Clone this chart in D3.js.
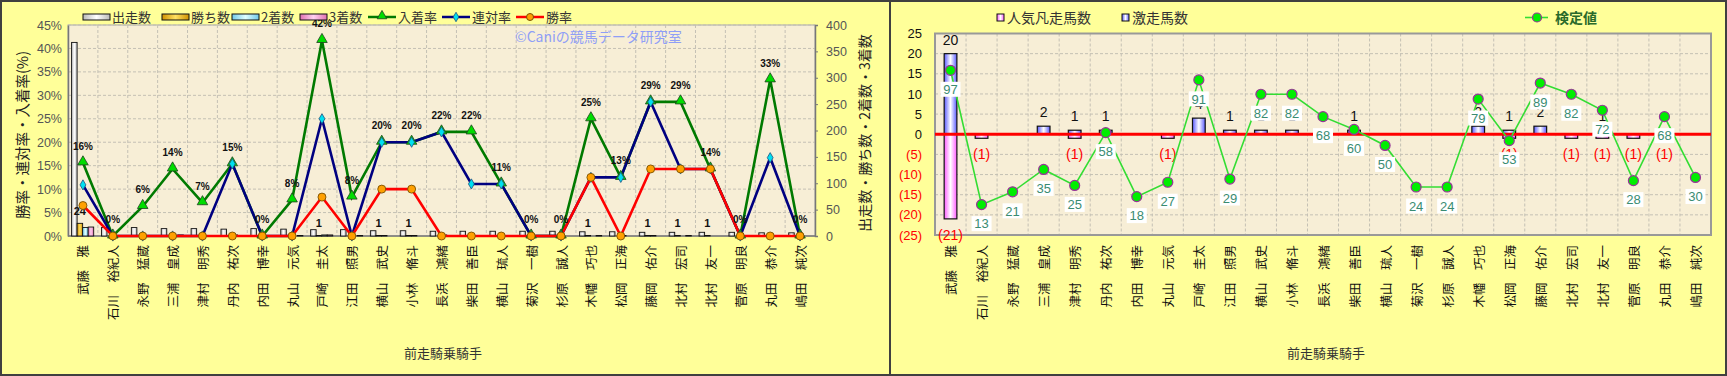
<!DOCTYPE html>
<html>
<head>
<meta charset="utf-8">
<script src="https://cdn.jsdelivr.net/npm/d3@7"></script>
<style>
  body { margin: 0; background: #ffff99; }
  svg text { font-family: "Noto Sans CJK JP", "Noto Sans", sans-serif; }
</style>
</head>
<body>
<svg id="chart" width="1727" height="376"></svg>
<script>
// ---- data ----
const jockeys = ["武藤　雅","石川　裕紀人","永野　猛蔵","三浦　皇成","津村　明秀","丹内　祐次","内田　博幸","丸山　元気","戸崎　圭太","江田　照男","横山　武史","小林　脩斗","長浜　鴻緒","柴田　善臣","横山　琉人","菊沢　一樹","杉原　誠人","木幡　巧也","松岡　正海","藤岡　佑介","北村　宏司","北村　友一","菅原　明良","丸田　恭介","嶋田　純次"];

// counts (right axis of left chart)
const runs    = [367,16,16,14,14,13,14,13,12,12,10,10,9,9,9,9,9,8,8,7,7,7,7,6,6];
const wins    = [24,0,0,0,0,0,0,0,1,0,1,1,0,0,0,0,0,1,0,1,1,1,0,0,0];
const seconds = [16,0,0,0,0,2,0,0,2,0,1,1,2,1,1,0,0,0,1,1,0,0,0,1,0];
const thirds  = [17,0,1,2,1,0,0,1,2,1,0,0,0,1,0,0,0,1,0,0,1,0,0,1,0];

// rates in % (left axis)
const placeRate    = [15.6,0,6.3,14.3,7.1,15.4,0,7.7,41.7,8.3,20,20,22.2,22.2,11.1,0,0,25,12.5,28.6,28.6,14.3,0,33.3,0];
const quinellaRate = [10.9,0,0,0,0,15.4,0,0,25,0,20,20,22.2,11.1,11.1,0,0,12.5,12.5,28.6,14.3,14.3,0,16.7,0];
const winRate      = [6.5,0,0,0,0,0,0,0,8.3,0,10,10,0,0,0,0,0,12.5,0,14.3,14.3,14.3,0,0,0];

// right chart
const surgeCount = [20,0,0,2,1,1,0,0,4,1,1,1,0,1,0,0,0,2,1,2,0,1,0,0,0];   // 激走馬数
const flopCount  = [21,1,0,0,1,0,0,1,0,0,0,0,0,0,0,0,0,0,1,0,1,1,1,1,0];   // 人気凡走馬数
const testValue  = [97,13,21,35,25,58,18,27,91,29,82,82,68,60,50,24,24,79,53,89,82,72,28,68,30]; // 検定値

const rateTicks  = [0,5,10,15,20,25,30,35,40,45];
const countTicks = [0,50,100,150,200,250,300,350,400];
const diffTicks  = [-25,-20,-15,-10,-5,0,5,10,15,20,25];

const svg = d3.select('#chart');
const defs = svg.append('defs');
const latin = '"Liberation Sans", Arial, sans-serif';

// horizontal gradients for bars
function hGrad(id, edge, mid) {
  const g = defs.append('linearGradient').attr('id', id)
    .attr('x1', '0%').attr('x2', '100%').attr('y1', '0%').attr('y2', '0%');
  g.append('stop').attr('offset', '0%').attr('stop-color', edge);
  g.append('stop').attr('offset', '50%').attr('stop-color', mid);
  g.append('stop').attr('offset', '100%').attr('stop-color', edge);
}
hGrad('gRuns', '#b8b8b8', '#ffffff');
hGrad('gWins', '#d09000', '#ffe060');
hGrad('gSec',  '#70c8e8', '#e0ffff');
hGrad('gThird','#e070b0', '#ffd0f0');
hGrad('gSurge','#5a5aff', '#ffffff');
hGrad('gFlop', '#ff5aff', '#ffffff');

// panels
svg.append('rect').attr('x', 1).attr('y', 1).attr('width', 1725).attr('height', 374)
  .attr('fill', '#ffff99').attr('stroke', '#404040').attr('stroke-width', 2);
svg.append('line').attr('x1', 890).attr('x2', 890).attr('y1', 0).attr('y2', 376)
  .attr('stroke', '#404040').attr('stroke-width', 2);

const plotBg = '#f7eed6';
const gridCol = '#c4c0b4';

// ============ LEFT CHART ============
const L = { left: 68, right: 815, top: 25, bottom: 236 };
const x1 = d3.scaleBand().domain(jockeys).range([L.left, L.right]);
const yRate = d3.scaleLinear().domain([0, 45]).range([L.bottom, L.top]);
const yCount = d3.scaleLinear().domain([0, 400]).range([L.bottom, L.top]);

const left = svg.append('g');
left.append('rect').attr('x', L.left).attr('y', L.top)
  .attr('width', L.right - L.left).attr('height', L.bottom - L.top)
  .attr('fill', plotBg).attr('stroke', '#aaa');

// grid
left.selectAll('line.hg').data(rateTicks.slice(1)).join('line')
  .attr('x1', L.left).attr('x2', L.right)
  .attr('y1', d => yRate(d)).attr('y2', d => yRate(d))
  .attr('stroke', gridCol).attr('stroke-dasharray', '3,2');
left.selectAll('line.vg').data(jockeys.slice(1)).join('line')
  .attr('x1', d => x1(d)).attr('x2', d => x1(d))
  .attr('y1', L.top).attr('y2', L.bottom)
  .attr('stroke', gridCol).attr('stroke-dasharray', '3,2');

// axes
const axL = left.append('g').attr('transform', `translate(${L.left},0)`)
  .call(d3.axisLeft(yRate).tickValues(rateTicks).tickFormat(d => d + '%').tickSize(0).tickPadding(6));
const axR = left.append('g').attr('transform', `translate(${L.right},0)`)
  .call(d3.axisRight(yCount).tickValues(countTicks).tickSize(3).tickPadding(8));
[axL, axR].forEach(a => {
  a.select('.domain').attr('stroke', '#777').attr('stroke-width', 1.5);
  a.selectAll('.tick line').attr('stroke', '#777');
  a.selectAll('.tick text').attr('fill', '#555').style('font-size', '12.5px').style('font-family', latin);
});
left.append('line').attr('x1', L.left).attr('x2', L.right).attr('y1', L.bottom).attr('y2', L.bottom)
  .attr('stroke', '#777').attr('stroke-width', 1.5);

// watermark
left.append('text').attr('x', 515).attr('y', 42).text('©Caniの競馬データ研究室')
  .attr('fill', '#8f9ef6').style('font-size', '14px');

// grouped bars
const barKeys = ['runs', 'wins', 'seconds', 'thirds'];
const barFill = { runs: 'url(#gRuns)', wins: 'url(#gWins)', seconds: 'url(#gSec)', thirds: 'url(#gThird)' };
const sub = d3.scaleBand().domain(barKeys).range([0, x1.bandwidth() * 0.74]);
const barRows = jockeys.map((j, i) => ({ j, runs: runs[i], wins: wins[i], seconds: seconds[i], thirds: thirds[i] }));
const groups = left.selectAll('g.grp').data(barRows).join('g')
  .attr('transform', d => `translate(${x1(d.j) + x1.bandwidth() * 0.12},0)`);
groups.selectAll('rect').data(d => barKeys.map(k => ({ k, v: d[k] }))).join('rect')
  .attr('x', d => sub(d.k)).attr('width', sub.bandwidth())
  .attr('y', d => yCount(d.v)).attr('height', d => L.bottom - yCount(d.v))
  .attr('fill', d => barFill[d.k]).attr('stroke', '#111').attr('stroke-width', 0.9);
// win-count labels
groups.filter(d => d.wins > 0).append('text')
  .attr('x', sub('wins') + sub.bandwidth() / 2)
  .attr('y', d => yCount(d.wins) - 8)
  .attr('text-anchor', 'middle').text(d => d.wins)
  .attr('fill', '#111').style('font-size', '11px').style('font-weight', 'bold')
  .style('font-family', latin);

// lines
const cx1 = j => x1(j) + x1.bandwidth() / 2;
function rateLine(vals, color) {
  left.append('path').datum(vals)
    .attr('d', d3.line().x((d, i) => cx1(jockeys[i])).y(d => yRate(d)))
    .attr('fill', 'none').attr('stroke', color).attr('stroke-width', 2.6);
}
rateLine(placeRate, '#007a00');
rateLine(quinellaRate, '#000080');
rateLine(winRate, '#ff0000');

left.selectAll('path.tri').data(placeRate).join('path')
  .attr('transform', (d, i) => `translate(${cx1(jockeys[i])},${yRate(d) - 1})`)
  .attr('d', d3.symbol(d3.symbolTriangle, 48))
  .attr('fill', '#00dd00').attr('stroke', '#204020').attr('stroke-width', 0.8);
left.selectAll('path.dia').data(quinellaRate).join('path')
  .attr('transform', (d, i) => `translate(${cx1(jockeys[i])},${yRate(d)})`)
  .attr('d', d3.symbol(d3.symbolDiamond, 30))
  .attr('fill', '#00e0f0').attr('stroke', '#205080').attr('stroke-width', 0.8);
left.selectAll('circle.win').data(winRate).join('circle')
  .attr('cx', (d, i) => cx1(jockeys[i])).attr('cy', d => yRate(d)).attr('r', 4)
  .attr('fill', '#ffa000').attr('stroke', '#7a5000').attr('stroke-width', 0.9);

// place-rate labels
left.selectAll('text.pl').data(placeRate).join('text')
  .attr('x', (d, i) => cx1(jockeys[i])).attr('y', d => yRate(d) - 13)
  .attr('text-anchor', 'middle').text(d => Math.round(d) + '%')
  .attr('fill', '#111').style('font-size', '10px').style('font-weight', 'bold')
  .style('font-family', latin);

// axis titles
left.append('text').attr('transform', 'translate(21,135) rotate(-90)')
  .attr('text-anchor', 'middle').attr('dominant-baseline', 'central')
  .text('勝率・連対率・入着率(%)').attr('fill', '#222').style('font-size', '14.5px');
left.append('text').attr('transform', 'translate(864,133) rotate(-90)')
  .attr('text-anchor', 'middle').attr('dominant-baseline', 'central')
  .text('出走数・勝ち数・2着数・3着数').attr('fill', '#222').style('font-size', '14px');

// x labels
function xLabels(g, scale) {
  g.selectAll('text.xl').data(jockeys).join('text')
    .attr('transform', d => `translate(${scale(d) + scale.bandwidth() / 2},245) rotate(-90)`)
    .attr('text-anchor', 'end').attr('dominant-baseline', 'central')
    .text(d => d).attr('fill', '#111').style('font-size', '12.5px');
}
xLabels(left, x1);
left.append('text').attr('x', 443).attr('y', 358).attr('text-anchor', 'middle')
  .text('前走騎乗騎手').attr('fill', '#333').style('font-size', '13px');

// legend (left)
const legL = left.append('g');
const barLeg = [
  { name: '出走数', fill: 'url(#gRuns)', x: 83 },
  { name: '勝ち数', fill: 'url(#gWins)', x: 162 },
  { name: '2着数', fill: 'url(#gSec)', x: 232 },
  { name: '3着数', fill: 'url(#gThird)', x: 300 }
];
barLeg.forEach(b => {
  legL.append('rect').attr('x', b.x).attr('y', 14).attr('width', 27).attr('height', 6)
    .attr('fill', b.fill).attr('stroke', '#111').attr('stroke-width', 1);
  legL.append('text').attr('x', b.x + 29).attr('y', 22).text(b.name)
    .attr('fill', '#333').style('font-size', '13px');
});
const lineLeg = [
  { name: '入着率', color: '#007a00', x: 368, sym: 'tri' },
  { name: '連対率', color: '#000080', x: 442, sym: 'dia' },
  { name: '勝率',   color: '#ff0000', x: 516, sym: 'cir' }
];
lineLeg.forEach(l => {
  legL.append('line').attr('x1', l.x).attr('x2', l.x + 28).attr('y1', 17).attr('y2', 17)
    .attr('stroke', l.color).attr('stroke-width', 2.5);
  const mx = l.x + 14;
  if (l.sym === 'tri') legL.append('path').attr('transform', `translate(${mx},16)`)
    .attr('d', d3.symbol(d3.symbolTriangle, 40)).attr('fill', '#00dd00').attr('stroke', '#204020').attr('stroke-width', 0.8);
  if (l.sym === 'dia') legL.append('path').attr('transform', `translate(${mx},17)`)
    .attr('d', d3.symbol(d3.symbolDiamond, 26)).attr('fill', '#00e0f0').attr('stroke', '#205080').attr('stroke-width', 0.8);
  if (l.sym === 'cir') legL.append('circle').attr('cx', mx).attr('cy', 17).attr('r', 3.5)
    .attr('fill', '#ffa000').attr('stroke', '#7a5000');
  legL.append('text').attr('x', l.x + 30).attr('y', 22).text(l.name)
    .attr('fill', '#333').style('font-size', '13px');
});

// ============ RIGHT CHART ============
const R = { left: 935, right: 1711, top: 33.5, bottom: 235 };
const x2 = d3.scaleBand().domain(jockeys).range([R.left, R.right]);
const yDiff = d3.scaleLinear().domain([-25, 25]).range([R.bottom, R.top]);
const yTest = d3.scaleLinear().domain([-6, 120]).range([R.bottom, R.top]);  // hidden secondary axis
const cx2 = j => x2(j) + x2.bandwidth() / 2;

const right = svg.append('g');
right.append('rect').attr('x', R.left).attr('y', R.top)
  .attr('width', R.right - R.left).attr('height', R.bottom - R.top)
  .attr('fill', plotBg);
right.selectAll('line.hg').data(diffTicks.slice(1, -1)).join('line')
  .attr('x1', R.left).attr('x2', R.right)
  .attr('y1', d => yDiff(d)).attr('y2', d => yDiff(d))
  .attr('stroke', gridCol).attr('stroke-dasharray', '3,2');
right.selectAll('line.vg').data(jockeys.slice(1)).join('line')
  .attr('x1', d => x2(d)).attr('x2', d => x2(d))
  .attr('y1', R.top).attr('y2', R.bottom)
  .attr('stroke', gridCol).attr('stroke-dasharray', '3,2');
right.append('rect').attr('x', R.left).attr('y', R.top)
  .attr('width', R.right - R.left).attr('height', R.bottom - R.top)
  .attr('fill', 'none').attr('stroke', '#999').attr('stroke-width', 2);

// y tick labels
right.selectAll('text.yt').data(diffTicks).join('text')
  .attr('x', 922).attr('y', d => yDiff(d)).attr('dy', '0.35em')
  .attr('text-anchor', 'end')
  .text(d => d < 0 ? `(${-d})` : d)
  .attr('fill', d => d < 0 ? '#ff0000' : '#111')
  .style('font-size', '13px').style('font-family', latin);

// bars (blue up, pink down, same slot)
const bw = x2.bandwidth() * 0.41;
right.selectAll('rect.flop').data(flopCount).join('rect')
  .attr('x', (d, i) => cx2(jockeys[i]) - bw / 2).attr('width', bw)
  .attr('y', yDiff(0)).attr('height', d => yDiff(-d) - yDiff(0))
  .attr('fill', 'url(#gFlop)').attr('stroke', d => d > 0 ? '#111' : 'none').attr('stroke-width', 1.2);
right.selectAll('rect.surge').data(surgeCount).join('rect')
  .attr('x', (d, i) => cx2(jockeys[i]) - bw / 2).attr('width', bw)
  .attr('y', d => yDiff(d)).attr('height', d => yDiff(0) - yDiff(d))
  .attr('fill', 'url(#gSurge)').attr('stroke', d => d > 0 ? '#111' : 'none').attr('stroke-width', 1.2);

// bar labels
surgeCount.forEach((v, i) => {
  if (v > 0) right.append('text').attr('x', cx2(jockeys[i])).attr('y', yDiff(v) - 9)
    .attr('text-anchor', 'middle').text(v).attr('fill', '#111')
    .style('font-size', '14px').style('font-family', latin);
});
flopCount.forEach((v, i) => {
  if (v > 0) right.append('text').attr('x', cx2(jockeys[i])).attr('y', yDiff(-v) + 21)
    .attr('text-anchor', 'middle').text(`(${v})`).attr('fill', '#ff0000')
    .style('font-size', '14px').style('font-family', latin);
});

// zero line
right.append('line').attr('x1', R.left).attr('x2', R.right)
  .attr('y1', yDiff(0)).attr('y2', yDiff(0))
  .attr('stroke', '#ff0000').attr('stroke-width', 3);

// test-value line
right.append('path').datum(testValue)
  .attr('d', d3.line().x((d, i) => cx2(jockeys[i])).y(d => yTest(d)))
  .attr('fill', 'none').attr('stroke', '#33dd33').attr('stroke-width', 1.6);
right.selectAll('circle.tv').data(testValue).join('circle')
  .attr('cx', (d, i) => cx2(jockeys[i])).attr('cy', d => yTest(d)).attr('r', 5)
  .attr('fill', '#00ee00').attr('stroke', '#993399').attr('stroke-width', 1.2);
const tvLab = right.selectAll('g.tvl').data(testValue).join('g')
  .attr('transform', (d, i) => `translate(${cx2(jockeys[i])},${yTest(d) + 19})`);
tvLab.append('rect').attr('x', -10).attr('y', -7.5).attr('width', 20).attr('height', 15).attr('fill', '#ffffff');
tvLab.append('text').attr('text-anchor', 'middle').attr('dy', '0.36em').text(d => d)
  .attr('fill', '#3a8c72').style('font-size', '13px').style('font-family', latin);

xLabels(right, x2);
right.append('text').attr('x', 1326).attr('y', 358).attr('text-anchor', 'middle')
  .text('前走騎乗騎手').attr('fill', '#333').style('font-size', '13px');

// legend (right)
const legR = right.append('g');
[{ name: '人気凡走馬数', fill: 'url(#gFlop)', x: 997 }, { name: '激走馬数', fill: 'url(#gSurge)', x: 1122 }]
  .forEach(b => {
    legR.append('rect').attr('x', b.x).attr('y', 14).attr('width', 7).attr('height', 7)
      .attr('fill', b.fill).attr('stroke', '#111').attr('stroke-width', 1);
    legR.append('text').attr('x', b.x + 10).attr('y', 23).text(b.name)
      .attr('fill', '#333').style('font-size', '14px');
  });
legR.append('line').attr('x1', 1525).attr('x2', 1548).attr('y1', 17.5).attr('y2', 17.5)
  .attr('stroke', '#33dd33').attr('stroke-width', 1.6);
legR.append('circle').attr('cx', 1537).attr('cy', 17.5).attr('r', 4.5)
  .attr('fill', '#00ee00').attr('stroke', '#993399').attr('stroke-width', 1.2);
legR.append('text').attr('x', 1555).attr('y', 23).text('検定値')
  .attr('fill', '#2a6a2a').style('font-size', '14px').style('font-weight', 'bold');
</script>
</body>
</html>
